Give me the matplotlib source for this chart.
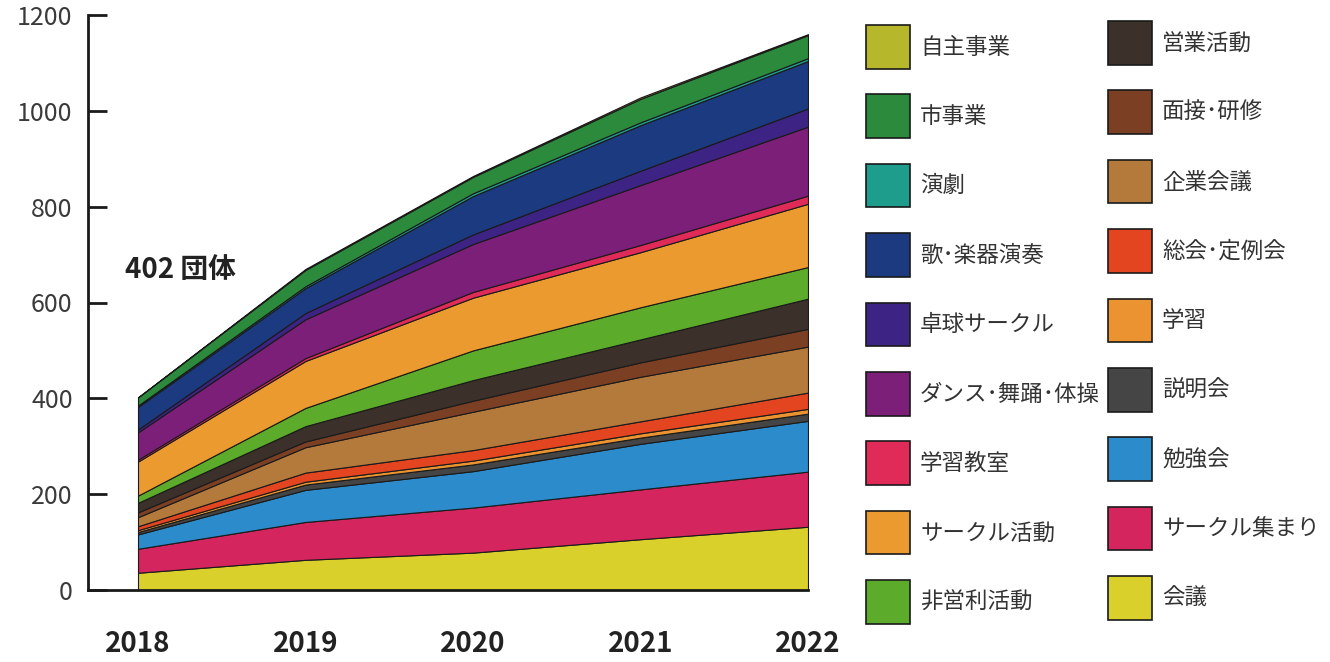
import matplotlib
matplotlib.use("Agg")
import matplotlib.pyplot as plt
from matplotlib.patches import Patch

plt.rcParams['font.family'] = ['Noto Sans CJK JP', 'DejaVu Sans']

years = [2018, 2019, 2020, 2021, 2022]

# stack order, bottom to top
categories = ["会議", "サークル集まり", "勉強会", "説明会", "学習", "総会･定例会",
              "企業会議", "面接･研修", "営業活動", "非営利活動", "サークル活動",
              "学習教室", "ダンス･舞踊･体操", "卓球サークル", "歌･楽器演奏",
              "演劇", "市事業", "自主事業"]

kaigi = [36, 63, 78, 106, 132]
circle_atsumari = [50, 79, 94, 104, 115]
benkyokai = [30, 67, 76, 95, 106]
setsumeikai = [5, 11, 14, 13, 15]
gakushu = [4, 6, 8, 9, 10]
sokai = [8, 19, 22, 25, 34]
kigyo_kaigi = [19, 53, 80, 93, 96]
mensetsu = [10, 12, 23, 30, 37]
eigyo = [20, 32, 43, 48, 63]
hieiri = [15, 38, 62, 67, 66]
circle_katsudo = [71, 98, 110, 115, 132]
gakushu_kyoshitsu = [4, 6, 12, 15, 17]
dance = [57, 81, 100, 125, 144]
takkyu = [6, 13, 20, 30, 38]
uta = [47, 52, 80, 95, 99]
engeki = [3, 4, 6, 6, 6]
shi_jigyo = [17, 34, 34, 49, 48]
jishu_jigyo = [0, 2, 2, 3, 2]

series = [kaigi, circle_atsumari, benkyokai, setsumeikai, gakushu, sokai,
          kigyo_kaigi, mensetsu, eigyo, hieiri, circle_katsudo,
          gakushu_kyoshitsu, dance, takkyu, uta, engeki, shi_jigyo, jishu_jigyo]

colors = ['#d9d02c', '#d4255e', '#2b8bcb', '#454545', '#ea9330', '#e2451f',
          '#b47a3c', '#7b3f24', '#3b302a', '#5cab2a', '#ea9a2e',
          '#e02a58', '#7c1f78', '#3d2384', '#1b3a80', '#1e9c8c', '#2b8a3c', '#b7b72c']

W, H = 1330, 662
fig = plt.figure(figsize=(W / 100, H / 100), dpi=100)
ax = fig.add_axes([88 / W, 1 - 590 / H, (808 - 88) / W, (590 - 15) / H])

ax.stackplot(years, series, colors=colors, edgecolor='#1a1a1a', linewidth=0.8)

ax.set_xlim(2018 - 50 / 167.5, 2022)
ax.set_ylim(0, 1200)

for s in ['top', 'right']:
    ax.spines[s].set_visible(False)
for s in ['left', 'bottom']:
    ax.spines[s].set_linewidth(2.0)
    ax.spines[s].set_color('#1a1a1a')

ax.set_yticks(range(0, 1201, 200))
ax.tick_params(axis='y', direction='in', length=14, width=2.0, color='#1a1a1a',
               pad=11, labelsize=18, labelcolor='#3a3a3a')
ax.set_xticks(years)
ax.set_xticklabels([str(y) for y in years], fontsize=20, fontweight='bold', color='#222222')
ax.tick_params(axis='x', length=0, pad=29)

fig.text(125 / W, 1 - 270 / H, "402 団体", fontsize=20, fontweight='bold',
         color='#222222', ha='left', va='center')

handles = [Patch(facecolor=c, edgecolor='#1a1a1a', linewidth=1.2, label=l)
           for c, l in zip(colors, categories)]
handles = handles[::-1]

common = dict(frameon=False, loc='upper left', borderpad=0, borderaxespad=0,
              handlelength=1.95, handleheight=2.6, handletextpad=0.45,
              labelspacing=1.15, prop={'size': 16.2}, labelcolor='#333333')
leg1 = fig.legend(handles=handles[:9], bbox_to_anchor=(866 / W, 1 - 25 / H), **common)
leg2 = fig.legend(handles=handles[9:], bbox_to_anchor=(1108 / W, 1 - 21 / H), **common)

fig.savefig("out.png", dpi=100)
